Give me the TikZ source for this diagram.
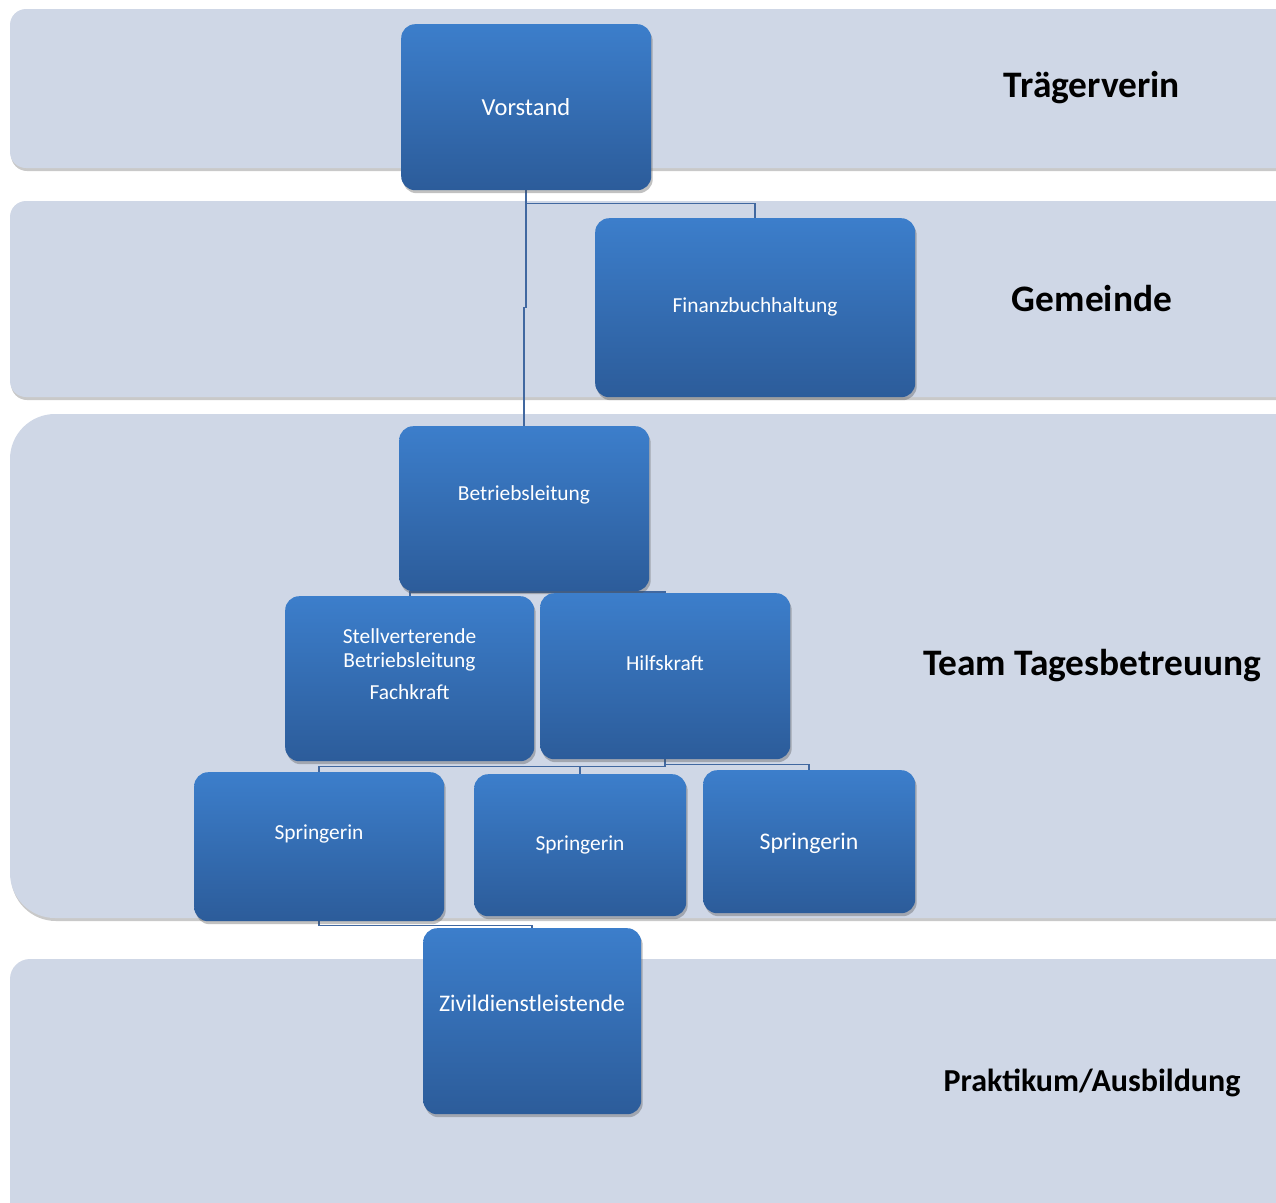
\documentclass[tikz,border=0pt]{standalone}
\usepackage{fontspec}
\setmainfont{Carlito}
\usetikzlibrary{shadows}
\definecolor{band}{RGB}{207,215,230}
\definecolor{boxtop}{RGB}{60,126,203}
\definecolor{boxbot}{RGB}{44,92,154}
\definecolor{conn}{RGB}{65,104,160}
\pgfdeclarelayer{bg}\pgfdeclarelayer{lines}
\pgfsetlayers{bg,lines,main}
\begin{document}
\begin{tikzpicture}[x=1pt,y=-1pt,
  lane/.style={fill=band, rounded corners=#1, drop shadow={shadow xshift=1pt, shadow yshift=-3pt, opacity=0.3, fill=black!70}},
  orgbox/.style={rounded corners=14pt, top color=boxtop, bottom color=boxbot, draw=none, anchor=north west, inner sep=0pt,
     drop shadow={shadow xshift=1.5pt, shadow yshift=-3pt, opacity=0.35, fill=black!70}},
  boxtext/.style={text=white, align=center, inner sep=0pt},
  lanelabel/.style={font=\bfseries, text=black, inner sep=0pt},
  conn/.style={draw=conn, line width=1.6pt}]
\useasboundingbox (0,0) rectangle (1276,1202);
\begin{pgfonlayer}{bg}
\begin{scope}
\clip (0,0) rectangle (1276,1202);
\path[lane=16pt] (10,9) rectangle (1300,168);
\path[lane=16pt] (10,201) rectangle (1300,397);
\path[lane=45pt] (10,414) rectangle (1320,918);
\path[lane=20pt] (10,959) rectangle (1300,1240);
\end{scope}
\end{pgfonlayer}

% boxes
\node[orgbox, minimum width=250, minimum height=166] (vor) at (401,24) {};
\node[orgbox, minimum width=320, minimum height=179] (fin) at (595,218) {};
\node[orgbox, minimum width=250, minimum height=165] (bl) at (399,426) {};
\node[orgbox, minimum width=249, minimum height=165] (stv) at (285,596) {};
\node[orgbox, minimum width=250, minimum height=166] (hil) at (540,593) {};
\node[orgbox, minimum width=250, minimum height=149] (sp1) at (194,772) {};
\node[orgbox, minimum width=212, minimum height=142] (sp2) at (474,774) {};
\node[orgbox, minimum width=212, minimum height=143] (sp3) at (703,770) {};
\node[orgbox, minimum width=218, minimum height=186] (ziv) at (423,928) {};

% texts
\node[boxtext, font=\fontsize{24.5}{29}\selectfont] (vort) at (526,107) {Vorstand};
\node[boxtext, font=\fontsize{21.4}{25}\selectfont] (fint) at (755,307) {Finanzbuchhaltung};
\node[boxtext, font=\fontsize{21.4}{25}\selectfont] (blt) at (524,495) {Betriebsleitung};
\node[boxtext, font=\fontsize{21.4}{24}\selectfont] (stvt) at (409.5,664) {Stellverterende\\Betriebsleitung\\[8pt]Fachkraft};
\node[boxtext, font=\fontsize{21.4}{25}\selectfont] (hilt) at (665,663) {Hilfskraft};
\node[boxtext, font=\fontsize{21.4}{25}\selectfont] (sp1t) at (319,834) {Springerin};
\node[boxtext, font=\fontsize{21.4}{25}\selectfont] (sp2t) at (580,845) {Springerin};
\node[boxtext, font=\fontsize{23.8}{28}\selectfont] (sp3t) at (809,843) {Springerin};
\node[boxtext, font=\fontsize{23.8}{28}\selectfont] (zivt) at (532,1003) {Zivildienstleistende};

% lane labels
\node[lanelabel, font=\bfseries\fontsize{37.4}{44}\selectfont] (l1) at (1092,88) {Trägerverin};
\node[lanelabel, font=\bfseries\fontsize{37.4}{44}\selectfont] (l2) at (1092,299) {Gemeinde};
\node[lanelabel, font=\bfseries\fontsize{37.4}{44}\selectfont] (l3) at (1092,666) {Team Tagesbetreuung};
\node[lanelabel, font=\bfseries\fontsize{32}{38}\selectfont] (l4) at (1092,1083) {Praktikum/Ausbildung};

% connectors
\begin{pgfonlayer}{lines}
\draw[conn] (vor.south) -- ++(0,117) -| (bl.north);
\draw[conn] (vor.south) -- ++(0,13) -| (fin.north);
\coordinate (bj) at (524,592);
\draw[conn] (bl.south) -- (bj);
\draw[conn] (stv.north) |- (bj) -| (hil.north);
\draw[conn] (hil.south) -- ++(0,7) -| (sp1.north);
\draw[conn] (hil.south) -- ++(0,7) -| (sp2.north);
\draw[conn] (hil.south) -- ++(0,5) -| (sp3.north);
\draw[conn] (sp1.south) -- ++(0,4) -| (ziv.north);
\end{pgfonlayer}
\end{tikzpicture}
\end{document}
